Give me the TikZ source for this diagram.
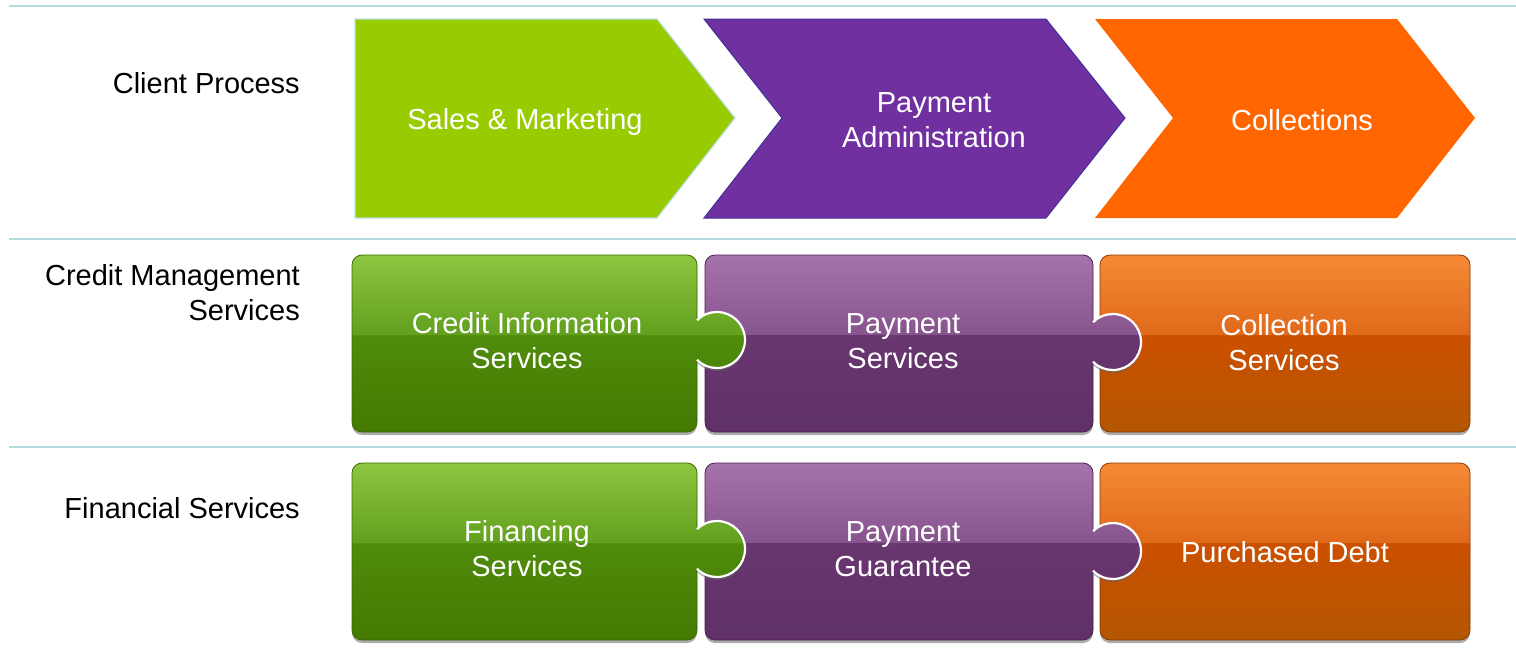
\documentclass[tikz,border=0pt]{standalone}
\usepackage{fontspec}
\setsansfont{Liberation Sans}

% colours of the three columns
\definecolor{lime}{HTML}{99CC00}
\definecolor{violet}{HTML}{7030A0}
\definecolor{tangerine}{HTML}{FF6600}
\definecolor{limeedge}{HTML}{BCDFE6}
\definecolor{violetedge}{HTML}{40309A}
\definecolor{rule}{HTML}{B4DADF}

\definecolor{gtop}{HTML}{8DC63F}
\definecolor{ghigh}{HTML}{62A01E}
\definecolor{glow}{HTML}{4F8C0C}
\definecolor{gbot}{HTML}{447A00}
\definecolor{gedge}{HTML}{3A6A00}
\definecolor{ptop}{HTML}{A673AC}
\definecolor{phigh}{HTML}{88548E}
\definecolor{plow}{HTML}{693670}
\definecolor{pbot}{HTML}{603068}
\definecolor{pedge}{HTML}{4A2250}
\definecolor{otop}{HTML}{F58A35}
\definecolor{ohigh}{HTML}{E0691A}
\definecolor{olow}{HTML}{CC5000}
\definecolor{obot}{HTML}{B35600}
\definecolor{oedge}{HTML}{8A3C00}

% glossy pieces: light top, step a little above the middle, dark bottom
\pgfdeclareverticalshading{greenpiece}{100bp}{color(0bp)=(gbot); color(25bp)=(gbot); color(52.4bp)=(glow); color(52.6bp)=(ghigh); color(75bp)=(gtop); color(100bp)=(gtop)}
\pgfdeclareverticalshading{purplepiece}{100bp}{color(0bp)=(pbot); color(25bp)=(pbot); color(52.4bp)=(plow); color(52.6bp)=(phigh); color(75bp)=(ptop); color(100bp)=(ptop)}
\pgfdeclareverticalshading{orangepiece}{100bp}{color(0bp)=(obot); color(25bp)=(obot); color(52.4bp)=(olow); color(52.6bp)=(ohigh); color(75bp)=(otop); color(100bp)=(otop)}

% knob on the right edge #1 of a piece, centred at height #2
\newcommand{\knobpath}[2]{-- (#1,#2-19.6) .. controls (#1+5.3,#2-25.4) and (#1+12.5,#2-28) .. (#1+20,#2-28)
  .. controls (#1+35.5,#2-28) and (#1+48,#2-15.5) .. (#1+48,#2)
  .. controls (#1+48,#2+15.5) and (#1+35.5,#2+28) .. (#1+20,#2+28)
  .. controls (#1+12.5,#2+28) and (#1+5.3,#2+25.4) .. (#1,#2+19.6)}
% rounded piece from (#1,#2) to (#3,#4) with a knob at height #5
\newcommand{\tabpiece}[5]{(#1+10,#2) -- (#3-10,#2) .. controls (#3-4.5,#2) and (#3,#2+4.5) .. (#3,#2+10)
  \knobpath{#3}{#5} -- (#3,#4-10) .. controls (#3,#4-4.5) and (#3-4.5,#4) .. (#3-10,#4)
  -- (#1+10,#4) .. controls (#1+4.5,#4) and (#1,#4-4.5) .. (#1,#4-10)
  -- (#1,#2+10) .. controls (#1,#2+4.5) and (#1+4.5,#2) .. cycle}

\begin{document}
\begin{tikzpicture}[x=1pt,y=-1pt,
    sepline/.style={draw=rule,line width=2pt},
    lefttext/.style={anchor=east,align=right,inner sep=0pt,font=\sffamily\fontsize{29}{35}\selectfont},
    boxtext/.style={align=center,inner sep=0pt,text=white,font=\sffamily\fontsize{29}{35}\selectfont},
    knobline/.style={draw=white,line width=2.2pt},
    dropshadow/.style={fill=black!60,opacity=0.55,yshift=-3pt}]
  \useasboundingbox (0,0) rectangle (1516,651);

  % row separators
  \draw[sepline] (9,6) -- (1516,6);
  \draw[sepline] (9,239) -- (1516,239);
  \draw[sepline] (9,447) -- (1516,447);

  % client process chevrons
  \fill[lime] (355,19) -- (657,19) -- (735,118) -- (657,218) -- (355,218) -- cycle;
  \draw[limeedge,line width=1.2pt] (355,19) -- (657,19) -- (735,118) -- (657,218) -- (355,218) -- cycle;
  \filldraw[fill=violet,draw=violetedge,line width=1pt] (704,19) -- (1046,19) -- (1125,118) -- (1046,218) -- (704,218) -- (782,118) -- cycle;
  \fill[tangerine] (1095,19) -- (1397,19) -- (1475,118) -- (1397,218) -- (1095,218) -- (1173,118) -- cycle;

  % credit management pieces
  \fill[dropshadow,rounded corners=10pt] (1100,255) rectangle (1470,432);
  \shadedraw[shading=orangepiece,draw=oedge,line width=0.8pt,rounded corners=10pt] (1100,255) rectangle (1470,432);
  \fill[dropshadow] \tabpiece{705}{255}{1093}{432}{342};
  \shadedraw[shading=purplepiece,draw=pedge,line width=0.8pt] \tabpiece{705}{255}{1093}{432}{342};
  \draw[knobline] (1093,342-19.6) \knobpath{1093}{342};
  \fill[dropshadow] \tabpiece{352}{255}{697}{432}{340};
  \shadedraw[shading=greenpiece,draw=gedge,line width=0.8pt] \tabpiece{352}{255}{697}{432}{340};
  \draw[knobline] (697,340-19.6) \knobpath{697}{340};

  % financial services pieces
  \fill[dropshadow,rounded corners=10pt] (1100,463) rectangle (1470,640);
  \shadedraw[shading=orangepiece,draw=oedge,line width=0.8pt,rounded corners=10pt] (1100,463) rectangle (1470,640);
  \fill[dropshadow] \tabpiece{705}{463}{1093}{640}{551};
  \shadedraw[shading=purplepiece,draw=pedge,line width=0.8pt] \tabpiece{705}{463}{1093}{640}{551};
  \draw[knobline] (1093,551-19.6) \knobpath{1093}{551};
  \fill[dropshadow] \tabpiece{352}{463}{697}{640}{549};
  \shadedraw[shading=greenpiece,draw=gedge,line width=0.8pt] \tabpiece{352}{463}{697}{640}{549};
  \draw[knobline] (697,549-19.6) \knobpath{697}{549};

  % row labels
  \node[lefttext] (client) at (300,83) {Client Process};
  \node[lefttext] (credit) at (300,293) {Credit Management\\Services};
  \node[lefttext] (financial) at (300,508) {Financial Services};

  % box texts
  \node[boxtext] (sales) at (525,122) {Sales \& Marketing};
  \node[boxtext] (admin) at (934,120) {Payment\\Administration};
  \node[boxtext] (collect) at (1302,120) {Collections};
  \node[boxtext] (cis) at (527,341) {Credit Information\\Services};
  \node[boxtext] (ps) at (903,341) {Payment\\Services};
  \node[boxtext] (cs) at (1284,343) {Collection\\Services};
  \node[boxtext] (fs) at (527,549) {Financing\\Services};
  \node[boxtext] (pg) at (903,549) {Payment\\Guarantee};
  \node[boxtext] (pd) at (1285,552) {Purchased Debt};
\end{tikzpicture}
\end{document}
